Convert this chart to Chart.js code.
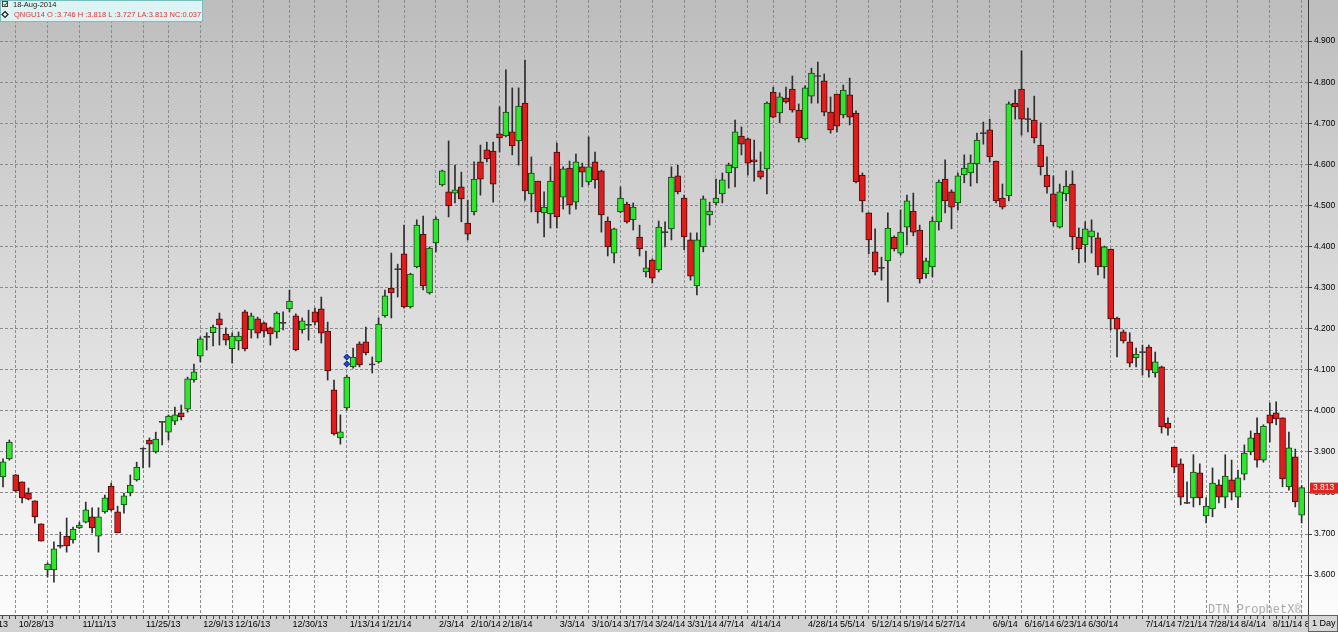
<!DOCTYPE html>
<html>
<head>
<meta charset="utf-8">
<script src="https://cdn.jsdelivr.net/npm/chart.js@4.4.1/dist/chart.umd.min.js"></script>
<style>
html, body { margin: 0; padding: 0; background: #fff; overflow: hidden; }
#wrap { position: relative; width: 1338px; height: 632px; }
</style>
</head>
<body>
<div id="wrap"><canvas id="chart"></canvas></div>
<script>
// QNGU14 daily bars, 10/24/13 .. 8/18/14
const startDate = '2013-10-24';
const holidays = ['2013-11-28', '2013-12-25', '2014-01-01', '2014-01-20', '2014-02-17', '2014-04-18', '2014-05-26', '2014-07-04'];

const opens = [
  3.839, 3.883, 3.844, 3.827, 3.800, 3.781, 3.725, 3.613, 3.613, 3.672,
  3.695, 3.686, 3.715, 3.729, 3.742, 3.695, 3.754, 3.817, 3.754, 3.771,
  3.800, 3.832, 3.909, 3.929, 3.900, 3.974, 3.948, 3.975, 3.995, 4.004,
  4.075, 4.133, 4.181, 4.190, 4.224, 4.187, 4.151, 4.170, 4.241, 4.197,
  4.224, 4.214, 4.202, 4.192, 4.214, 4.248, 4.231, 4.197, 4.209, 4.241,
  4.248, 4.194, 4.051, 3.934, 4.007, 4.107, 4.163, 4.168, 4.114, 4.119,
  4.231, 4.299, 4.345, 4.382, 4.253, 4.350, 4.430, 4.287, 4.409, 4.550,
  4.533, 4.530, 4.545, 4.457, 4.484, 4.606, 4.635, 4.632, 4.674, 4.669,
  4.679, 4.657, 4.749, 4.528, 4.559, 4.482, 4.479, 4.630, 4.520, 4.591,
  4.508, 4.594, 4.557, 4.606, 4.584, 4.462, 4.384, 4.484, 4.503, 4.465,
  4.423, 4.338, 4.367, 4.343, 4.435, 4.443, 4.572, 4.518, 4.416, 4.304,
  4.399, 4.477, 4.506, 4.528, 4.579, 4.591, 4.669, 4.662, 4.611, 4.584,
  4.589, 4.776, 4.725, 4.761, 4.783, 4.732, 4.662, 4.766, 4.815, 4.803,
  4.727, 4.771, 4.720, 4.769, 4.725, 4.574, 4.482, 4.387, 4.348, 4.365,
  4.423, 4.384, 4.447, 4.486, 4.440, 4.333, 4.350, 4.460, 4.564, 4.533,
  4.506, 4.574, 4.579, 4.601, 4.676, 4.684, 4.608, 4.518, 4.523, 4.749,
  4.783, 4.710, 4.708, 4.647, 4.574, 4.528, 4.447, 4.528, 4.552, 4.423,
  4.404, 4.423, 4.421, 4.350, 4.394, 4.226, 4.192, 4.168, 4.129, 4.143,
  4.155, 4.092, 4.107, 3.970, 3.912, 3.871, 3.776, 3.788, 3.849, 3.744,
  3.761, 3.820, 3.790, 3.832, 3.790, 3.846, 3.900, 3.946, 3.880, 3.990,
  3.995, 3.983, 3.815, 3.888, 3.746
];
const highs = [
  3.883, 3.929, 3.845, 3.827, 3.812, 3.781, 3.725, 3.630, 3.681, 3.705,
  3.739, 3.717, 3.729, 3.778, 3.764, 3.764, 3.795, 3.824, 3.768, 3.800,
  3.844, 3.875, 3.910, 3.934, 3.948, 3.974, 3.990, 4.009, 4.014, 4.082,
  4.114, 4.180, 4.190, 4.209, 4.238, 4.202, 4.190, 4.192, 4.245, 4.238,
  4.228, 4.216, 4.204, 4.241, 4.241, 4.294, 4.236, 4.226, 4.245, 4.250,
  4.277, 4.216, 4.075, 3.990, 4.087, 4.153, 4.168, 4.204, 4.131, 4.226,
  4.294, 4.384, 4.357, 4.452, 4.335, 4.465, 4.474, 4.399, 4.472, 4.586,
  4.657, 4.598, 4.581, 4.513, 4.606, 4.647, 4.654, 4.654, 4.740, 4.830,
  4.786, 4.786, 4.854, 4.618, 4.559, 4.533, 4.594, 4.652, 4.594, 4.608,
  4.625, 4.603, 4.667, 4.630, 4.586, 4.472, 4.445, 4.545, 4.508, 4.506,
  4.452, 4.389, 4.370, 4.462, 4.460, 4.594, 4.598, 4.525, 4.433, 4.433,
  4.523, 4.508, 4.564, 4.579, 4.603, 4.708, 4.691, 4.664, 4.659, 4.630,
  4.752, 4.788, 4.774, 4.788, 4.815, 4.747, 4.791, 4.834, 4.849, 4.820,
  4.764, 4.771, 4.793, 4.810, 4.730, 4.579, 4.482, 4.443, 4.374, 4.482,
  4.426, 4.489, 4.525, 4.530, 4.452, 4.372, 4.472, 4.562, 4.611, 4.538,
  4.579, 4.623, 4.623, 4.676, 4.703, 4.710, 4.608, 4.552, 4.752, 4.781,
  4.876, 4.737, 4.766, 4.701, 4.618, 4.572, 4.552, 4.584, 4.584, 4.445,
  4.460, 4.465, 4.433, 4.401, 4.394, 4.228, 4.197, 4.190, 4.153, 4.160,
  4.160, 4.143, 4.109, 3.983, 3.912, 3.883, 3.827, 3.893, 3.871, 3.788,
  3.861, 3.832, 3.893, 3.880, 3.856, 3.917, 3.951, 3.983, 3.966, 4.019,
  4.022, 3.983, 3.948, 3.907, 3.818
];
const lows = [
  3.815, 3.880, 3.802, 3.776, 3.783, 3.727, 3.683, 3.596, 3.583, 3.666,
  3.656, 3.678, 3.713, 3.727, 3.703, 3.656, 3.751, 3.756, 3.703, 3.751,
  3.793, 3.829, 3.861, 3.863, 3.897, 3.917, 3.929, 3.966, 3.978, 3.997,
  4.070, 4.119, 4.148, 4.158, 4.160, 4.160, 4.116, 4.148, 4.146, 4.177,
  4.177, 4.180, 4.160, 4.177, 4.197, 4.241, 4.146, 4.189, 4.172, 4.209,
  4.165, 4.075, 3.941, 3.919, 4.002, 4.104, 4.107, 4.136, 4.092, 4.116,
  4.228, 4.226, 4.277, 4.250, 4.250, 4.348, 4.294, 4.284, 4.387, 4.547,
  4.472, 4.506, 4.460, 4.416, 4.477, 4.525, 4.606, 4.508, 4.630, 4.667,
  4.623, 4.598, 4.513, 4.484, 4.457, 4.423, 4.445, 4.445, 4.491, 4.479,
  4.491, 4.545, 4.550, 4.542, 4.435, 4.377, 4.360, 4.482, 4.457, 4.440,
  4.377, 4.326, 4.311, 4.338, 4.399, 4.416, 4.528, 4.392, 4.318, 4.282,
  4.387, 4.452, 4.501, 4.506, 4.542, 4.545, 4.623, 4.574, 4.559, 4.564,
  4.528, 4.713, 4.701, 4.749, 4.727, 4.654, 4.659, 4.749, 4.749, 4.718,
  4.676, 4.679, 4.713, 4.696, 4.555, 4.484, 4.382, 4.331, 4.318, 4.265,
  4.389, 4.379, 4.404, 4.426, 4.311, 4.323, 4.326, 4.440, 4.482, 4.443,
  4.489, 4.555, 4.547, 4.555, 4.649, 4.606, 4.506, 4.491, 4.511, 4.710,
  4.671, 4.679, 4.652, 4.574, 4.530, 4.450, 4.445, 4.511, 4.392, 4.360,
  4.362, 4.384, 4.331, 4.323, 4.197, 4.131, 4.165, 4.107, 4.107, 4.087,
  4.082, 4.082, 3.946, 3.941, 3.849, 3.771, 3.774, 3.766, 3.771, 3.727,
  3.742, 3.776, 3.764, 3.783, 3.764, 3.832, 3.893, 3.863, 3.875, 3.924,
  3.966, 3.815, 3.807, 3.766, 3.727
];
const closes = [
  3.876, 3.924, 3.805, 3.788, 3.785, 3.742, 3.683, 3.627, 3.664, 3.670,
  3.671, 3.712, 3.722, 3.759, 3.715, 3.742, 3.788, 3.759, 3.703, 3.793,
  3.819, 3.863, 3.907, 3.919, 3.931, 3.972, 3.987, 3.990, 3.985, 4.078,
  4.095, 4.175, 4.179, 4.204, 4.209, 4.172, 4.182, 4.182, 4.151, 4.231,
  4.189, 4.194, 4.187, 4.238, 4.214, 4.267, 4.148, 4.219, 4.209, 4.216,
  4.189, 4.097, 3.944, 3.949, 4.082, 4.131, 4.112, 4.141, 4.112, 4.211,
  4.280, 4.287, 4.345, 4.253, 4.333, 4.452, 4.304, 4.396, 4.467, 4.584,
  4.499, 4.538, 4.516, 4.430, 4.564, 4.564, 4.613, 4.552, 4.664, 4.727,
  4.645, 4.742, 4.535, 4.579, 4.484, 4.496, 4.559, 4.472, 4.589, 4.501,
  4.606, 4.581, 4.594, 4.562, 4.477, 4.399, 4.443, 4.518, 4.460, 4.496,
  4.394, 4.348, 4.323, 4.447, 4.435, 4.569, 4.533, 4.423, 4.328, 4.416,
  4.516, 4.486, 4.518, 4.562, 4.598, 4.679, 4.649, 4.603, 4.606, 4.569,
  4.749, 4.715, 4.764, 4.752, 4.732, 4.664, 4.786, 4.822, 4.815, 4.727,
  4.684, 4.693, 4.781, 4.715, 4.557, 4.511, 4.416, 4.338, 4.348, 4.445,
  4.394, 4.435, 4.511, 4.435, 4.321, 4.365, 4.462, 4.557, 4.511, 4.496,
  4.572, 4.591, 4.603, 4.659, 4.676, 4.618, 4.511, 4.496, 4.747, 4.740,
  4.710, 4.710, 4.664, 4.594, 4.545, 4.460, 4.533, 4.547, 4.423, 4.394,
  4.443, 4.438, 4.350, 4.399, 4.224, 4.199, 4.170, 4.116, 4.138, 4.143,
  4.099, 4.119, 3.961, 3.958, 3.863, 3.790, 3.776, 3.851, 3.788, 3.768,
  3.824, 3.790, 3.841, 3.802, 3.837, 3.897, 3.934, 3.880, 3.963, 3.970,
  3.980, 3.834, 3.910, 3.778, 3.813
];

const xTickLabels = ['10/28/13', '11/11/13', '11/25/13', '12/9/13', '12/16/13', '12/30/13', '1/13/14', '1/21/14',
  '2/3/14', '2/10/14', '2/18/14', '3/3/14', '3/10/14', '3/17/14', '3/24/14', '3/31/14', '4/7/14', '4/14/14',
  '4/28/14', '5/5/14', '5/12/14', '5/19/14', '5/27/14', '6/9/14', '6/16/14', '6/23/14', '6/30/14',
  '7/14/14', '7/21/14', '7/28/14', '8/4/14', '8/11/14', '8/18/14'];
const yTickValues = [3.6, 3.7, 3.8, 3.9, 4.0, 4.1, 4.2, 4.3, 4.4, 4.5, 4.6, 4.7, 4.8, 4.9];

const markerDate = '1/13/14';
const markerPrices = [4.131, 4.114];
const lastPrice = 3.813;
const headerDate = '18-Aug-2014';
const headerQuote = 'QNGU14 O :3.746 H :3.818 L :3.727 LA:3.813 NC:0.037';

// trading days
const dates = [];
const day = new Date(startDate + 'T12:00:00Z');
while (dates.length < opens.length) {
    const iso = day.toISOString().slice(0, 10);
    const wd = day.getUTCDay();
    if (wd !== 0 && wd !== 6 && !holidays.includes(iso)) dates.push(new Date(day));
    day.setUTCDate(day.getUTCDate() + 1);
}
const fmtDate = dt => (dt.getUTCMonth() + 1) + '/' + dt.getUTCDate() + '/' + String(dt.getUTCFullYear()).slice(2);
const dateLabels = dates.map(fmtDate);
const weekStart = dates.map((dt, i) => i > 0 && dt.getUTCDay() < dates[i - 1].getUTCDay());

const GREEN = '#2fe62f', RED = '#e01c1c', DOJI = '#303030';
const bodies = [], wicks = [], bodyFill = [], bodyLine = [];
opens.forEach((o, i) => {
    const c = closes[i];
    if (Math.abs(c - o) < 0.0025) {
        const m = (o + c) / 2;
        bodies.push({ x: i, y: [m - 0.0013, m + 0.0013] });
        bodyFill.push(DOJI);
        bodyLine.push(DOJI);
    } else {
        bodies.push({ x: i, y: [o, c] });
        bodyFill.push(c > o ? GREEN : RED);
        bodyLine.push(c > o ? '#184018' : '#420c0c');
    }
    wicks.push({ x: i, y: [lows[i], highs[i]] });
});
const markerIdx = dateLabels.indexOf(markerDate);
const markers = markerPrices.map(p => ({ x: markerIdx, y: p }));

const chromePlugin = {
    id: 'chrome',
    beforeDraw(chart) {
        const { ctx, chartArea } = chart;
        const W = chart.width, H = chart.height;
        const g = ctx.createLinearGradient(0, 0, 0, chartArea.bottom);
        g.addColorStop(0, '#bdbdbd');
        g.addColorStop(0.5, '#dcdcdc');
        g.addColorStop(1, '#fcfcfc');
        ctx.save();
        ctx.fillStyle = g;
        ctx.fillRect(0, 0, W, chartArea.bottom);
        ctx.fillStyle = '#d2d2d2';
        ctx.fillRect(0, chartArea.bottom, W, H - chartArea.bottom);
        ctx.restore();
    },
    afterDraw(chart) {
        const { ctx, chartArea, scales } = chart;
        const W = chart.width, H = chart.height;
        ctx.save();
        // partial label at left edge
        ctx.font = '9px "Liberation Sans"';
        ctx.fillStyle = '#000';
        ctx.textBaseline = 'middle';
        ctx.textAlign = 'right';
        ctx.fillText('10/21/13', 8, chartArea.bottom + 10);
        // band top line
        ctx.strokeStyle = '#505050';
        ctx.lineWidth = 1;
        ctx.beginPath();
        ctx.moveTo(0, chartArea.bottom + 0.5);
        ctx.lineTo(W, chartArea.bottom + 0.5);
        ctx.stroke();
        // "1 Day" box
        ctx.fillStyle = '#d6d6d6';
        ctx.fillRect(chartArea.right, chartArea.bottom + 1, W - chartArea.right, H - chartArea.bottom - 1);
        ctx.strokeStyle = '#606060';
        ctx.strokeRect(chartArea.right + 0.5, chartArea.bottom + 0.5, W - chartArea.right - 1, H - chartArea.bottom - 1);
        ctx.fillStyle = '#000';
        ctx.textAlign = 'left';
        ctx.fillText('1 Day', chartArea.right + 4, chartArea.bottom + 9);
        // last price box
        const yl = scales.y.getPixelForValue(lastPrice);
        ctx.fillStyle = '#e3231d';
        ctx.fillRect(chartArea.right + 2, yl - 5, 28, 11);
        ctx.fillStyle = '#fff';
        ctx.font = '8.5px "Liberation Sans"';
        ctx.fillText(lastPrice.toFixed(3), chartArea.right + 5, yl + 0.5);
        // watermark
        ctx.font = '12px "Liberation Mono"';
        ctx.fillStyle = '#a9a9a9';
        ctx.textBaseline = 'alphabetic';
        ctx.fillText('DTN ProphetX\u00ae', 1208, 613);
        // header box
        ctx.fillStyle = '#def4f4';
        ctx.fillRect(0, 0, 203, 22);
        ctx.strokeStyle = '#7bbcbc';
        ctx.strokeRect(0.5, 0.5, 202, 21);
        ctx.strokeStyle = '#404040';
        ctx.strokeRect(2.5, 1.5, 5, 5);
        ctx.beginPath();
        ctx.moveTo(3.5, 4); ctx.lineTo(5, 5.5); ctx.lineTo(7, 2.5);
        ctx.stroke();
        ctx.beginPath();
        ctx.moveTo(5, 11.5); ctx.lineTo(8, 14.5); ctx.lineTo(5, 17.5); ctx.lineTo(2, 14.5); ctx.closePath();
        ctx.lineWidth = 1.2;
        ctx.strokeStyle = '#202020';
        ctx.stroke();
        ctx.font = '7.5px "Liberation Sans"';
        ctx.textBaseline = 'middle';
        ctx.fillStyle = '#202020';
        ctx.fillText(headerDate, 13, 4.5);
        ctx.fillStyle = '#e03434';
        ctx.fillText(headerQuote, 14, 15);
        ctx.restore();
    }
};

Chart.defaults.font.family = '"Liberation Sans", Arial, sans-serif';

new Chart(document.getElementById('chart'), {
    type: 'bar',
    data: {
        datasets: [
            {
                type: 'scatter',
                data: markers,
                pointStyle: 'rectRot',
                radius: 3,
                backgroundColor: '#2346d8',
                borderColor: '#0c1f86',
                borderWidth: 1,
                order: 0
            },
            {
                data: bodies,
                backgroundColor: bodyFill,
                borderColor: bodyLine,
                borderWidth: 1,
                borderSkipped: false,
                barThickness: 6,
                grouped: false,
                order: 1
            },
            {
                data: wicks,
                backgroundColor: '#2e2e2e',
                borderWidth: 0,
                barThickness: 1,
                grouped: false,
                order: 2
            }
        ]
    },
    options: {
        responsive: true,
        maintainAspectRatio: false,
        animation: false,
        events: [],
        layout: { padding: 0, autoPadding: false },
        plugins: { legend: { display: false }, tooltip: { enabled: false } },
        scales: {
            x: {
                type: 'linear',
                position: 'bottom',
                offset: false,
                min: -0.471,
                max: 205.0,
                afterBuildTicks: scale => { scale.ticks = dateLabels.map((_, i) => ({ value: i })); },
                afterFit: scale => { scale.height = 17; scale.paddingLeft = 0; scale.paddingRight = 0; },
                ticks: {
                    autoSkip: false,
                    maxRotation: 0,
                    minRotation: 0,
                    align: 'start',
                    labelOffset: 3,
                    padding: 0,
                    color: '#000',
                    font: { size: 9 },
                    callback: (v, i) => xTickLabels.includes(dateLabels[i]) ? dateLabels[i] : ''
                },
                grid: {
                    offset: false,
                    color: c => (c.tick && weekStart[c.index]) ? '#8c8c8c' : 'rgba(0,0,0,0)',
                    tickColor: '#404040',
                    tickLength: 4,
                    lineWidth: 1
                },
                border: { display: false, dash: [3, 2] }
            },
            y: {
                type: 'linear',
                position: 'right',
                min: 3.503,
                max: 5.0,
                afterBuildTicks: scale => { scale.ticks = yTickValues.map(v => ({ value: v })); },
                afterFit: scale => { scale.width = 30; scale.paddingTop = 0; scale.paddingBottom = 0; },
                ticks: {
                    color: '#000',
                    padding: 2,
                    font: { size: 8.5 },
                    callback: v => Number(v).toFixed(3)
                },
                grid: {
                    color: '#8c8c8c',
                    tickColor: '#404040',
                    tickLength: 4,
                    lineWidth: 1
                },
                border: { display: true, color: '#3a3a3a', width: 1, dash: [3, 2] }
            }
        }
    },
    plugins: [chromePlugin]
});
</script>
</body>
</html>
